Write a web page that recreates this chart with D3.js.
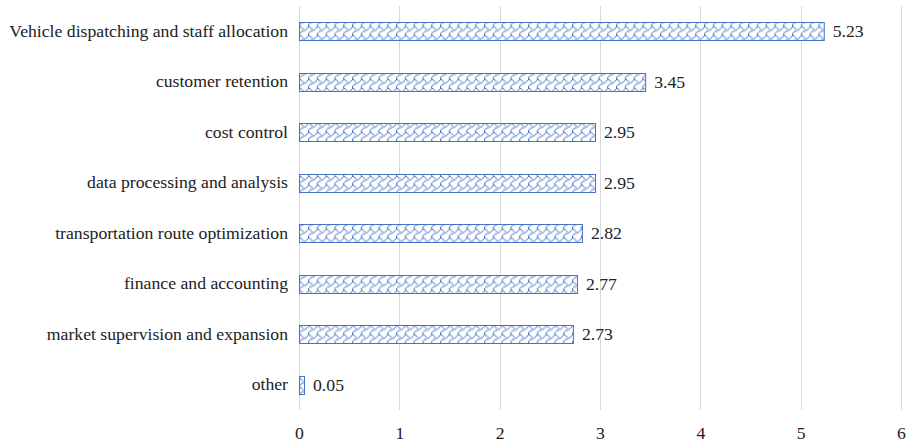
<!DOCTYPE html>
<html>
<head>
<meta charset="utf-8">
<script src="https://cdn.jsdelivr.net/npm/d3@7"></script>
<style>
  html, body { margin: 0; padding: 0; background: #fff; }
  svg { display: block; }
  text { font-family: "Liberation Serif", "Times New Roman", serif; fill: #222; }
</style>
</head>
<body>
<svg id="chart" width="909" height="443"></svg>
<script>
// Categories, top to bottom
const categories = [
  "Vehicle dispatching and staff allocation",
  "customer retention",
  "cost control",
  "data processing and analysis",
  "transportation route optimization",
  "finance and accounting",
  "market supervision and expansion",
  "other"
];
const values = [5.23, 3.45, 2.95, 2.95, 2.82, 2.77, 2.73, 0.05];
const xTicks = [0, 1, 2, 3, 4, 5, 6];

const W = 909, H = 443;
const margin = { top: 6, right: 8, bottom: 33, left: 299 };
const svg = d3.select("#chart");
const blue = "#4472C4";
const fontSize = 17.7;

// Shingle hatch tile (8x8 bitmap, one row per byte, lowest bit on the left)
const shingle = [0x03, 0x84, 0x48, 0x30, 0x0C, 0x02, 0x01, 0x01];
const defs = svg.append("defs");
const pat = defs.append("pattern")
  .attr("id", "shingle")
  .attr("patternUnits", "userSpaceOnUse")
  .attr("patternTransform", "scale(1.1)")
  .attr("width", 8).attr("height", 8);
pat.append("rect").attr("width", 8).attr("height", 8).attr("fill", "#fff");
shingle.forEach((row, y) => {
  for (let x = 0; x < 8; x++) {
    if (row & (1 << x)) {
      pat.append("rect").attr("x", x).attr("y", y)
        .attr("width", 1).attr("height", 1)
        .attr("fill", blue);
    }
  }
});

const x = d3.scaleLinear().domain([0, 6]).range([margin.left, 901]);
const y = d3.scaleBand().domain(categories)
  .range([margin.top, H - margin.bottom]).paddingInner(0.64).paddingOuter(0.32);

// Vertical gridlines
svg.append("g").selectAll("line").data(xTicks).join("line")
  .attr("x1", d => Math.round(x(d)) + 0.5).attr("x2", d => Math.round(x(d)) + 0.5)
  .attr("y1", margin.top).attr("y2", H - margin.bottom)
  .attr("stroke", "#d9d9d9").attr("stroke-width", 1);

// X tick labels
const xAxis = d3.axisBottom(x).tickValues(xTicks).tickSize(0).tickPadding(0).tickFormat(d3.format("d"));
const gx = svg.append("g").attr("transform", `translate(0,${H - margin.bottom + 16})`).call(xAxis);
gx.select(".domain").remove();
gx.attr("font-family", null).attr("font-size", null);
gx.selectAll("text").attr("font-size", fontSize).attr("fill", "#222");

// Category labels
const yAxis = d3.axisLeft(y).tickSize(0).tickPadding(11);
const gy = svg.append("g").attr("transform", `translate(${margin.left},0)`).call(yAxis);
gy.select(".domain").remove();
gy.attr("font-family", null).attr("font-size", null);
gy.selectAll("text").attr("font-size", fontSize).attr("fill", "#222");

// Bars
svg.append("g").selectAll("rect").data(categories).join("rect")
  .attr("x", x(0) + 0.5)
  .attr("y", (d) => Math.round(y(d)) + 0.5)
  .attr("width", (d, i) => x(values[i]) - x(0))
  .attr("height", Math.round(y.bandwidth()))
  .attr("fill", "url(#shingle)")
  .attr("stroke", blue).attr("stroke-width", 1);

// Value labels
svg.append("g").selectAll("text").data(categories).join("text")
  .attr("x", (d, i) => x(values[i]) + 9)
  .attr("y", d => y(d) + y.bandwidth() / 2)
  .attr("dy", "0.35em")
  .attr("font-size", fontSize)
  .text((d, i) => values[i].toFixed(2));
</script>
</body>
</html>
